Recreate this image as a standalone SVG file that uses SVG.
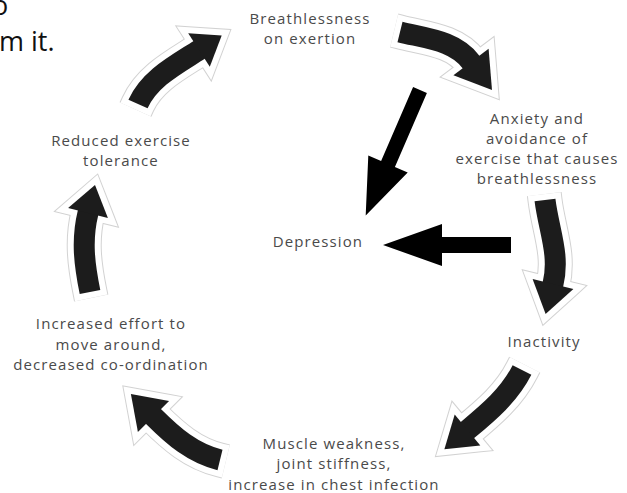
<svg xmlns="http://www.w3.org/2000/svg" xmlns:xlink="http://www.w3.org/1999/xlink" width="627" height="493" viewBox="0 0 627 493">
<style>
.t{font-family:"Open Sans","Noto Sans",sans-serif;font-size:15px;fill:#4a4a4a;text-anchor:middle;letter-spacing:1.1px}
.slide{font-family:"Open Sans","Noto Sans",sans-serif;font-size:27px;fill:#111}
.hs{fill:none;stroke:#d2d2d2;stroke-width:35}
.ws{fill:none;stroke:#fff;stroke-width:33}
.bs{fill:none;stroke:#1c1c1c;stroke-width:21}
.hh{fill:#d2d2d2;stroke:#d2d2d2;stroke-width:14;stroke-linejoin:miter}
.wh{fill:#fff;stroke:#fff;stroke-width:12;stroke-linejoin:miter}
.bh{fill:#1c1c1c}
.straight{fill:#000}
</style>
<defs>
<path id="e1" d="M135.5,109.5 L138,104 C149.5,78.5 175.5,65.1 199,50"/>
<path id="s1" d="M138,104 C149.5,78.5 175.5,65.1 199,50 L200.7,48.9"/>
<polygon id="h1" points="188.2,33.2 221.7,35.4 209.8,66.8"/>
<path id="e2" d="M394.2,30.6 L400,32 C426.2,38.5 454.8,40.4 471,62"/>
<path id="s2" d="M400,32 C426.2,38.5 454.8,40.4 471,62 L472.2,63.6"/>
<polygon id="h2" points="488.6,48.8 492,90 453.4,75.2"/>
<path id="e3" d="M544.3,194.1 L545,200 C548.6,229.7 560.2,254.9 553,284"/>
<path id="s3" d="M545,200 C548.6,229.7 560.2,254.9 553,284 L552.5,286"/>
<polygon id="h3" points="573.4,289 545.6,314.1 532.6,279"/>
<path id="e4" d="M524.7,364.7 L522,370 C509.4,394.9 489.1,412.1 467.5,430"/>
<path id="s4" d="M522,370 C509.4,394.9 489.1,412.1 467.5,430 L466,431.3"/>
<polygon id="h4" points="480.3,445.4 444.4,449.2 454.7,414.6"/>
<path id="e5" d="M225.8,461.4 L220,460 C192.8,453.3 173.4,436.4 153.5,416.5"/>
<path id="s5" d="M220,460 C192.8,453.3 173.4,436.4 153.5,416.5 L152.1,415.1"/>
<polygon id="h5" points="169.1,400.9 130.9,393.9 137.9,432.1"/>
<path id="e6" d="M91.2,297.9 L90,292 C84.4,264.6 81.3,240.2 88,213"/>
<path id="s6" d="M90,292 C84.4,264.6 81.3,240.2 88,213 L88.5,211"/>
<polygon id="h6" points="107.9,217.9 95,184.9 68.1,208.1"/>
</defs>

<text class="slide" x="-8" y="15">o</text>
<text class="slide" x="-1" y="51">m it.</text>

<g id="connectors">
  <g id="arrow-breathless-anxiety">
    <use xlink:href="#e2" class="hs"/><use xlink:href="#h2" class="hh"/>
    <use xlink:href="#e2" class="ws"/><use xlink:href="#h2" class="wh"/>
    <use xlink:href="#s2" class="bs"/><use xlink:href="#h2" class="bh"/>
  </g>
  <g id="arrow-anxiety-inactivity">
    <use xlink:href="#e3" class="hs"/><use xlink:href="#h3" class="hh"/>
    <use xlink:href="#e3" class="ws"/><use xlink:href="#h3" class="wh"/>
    <use xlink:href="#s3" class="bs"/><use xlink:href="#h3" class="bh"/>
  </g>
  <g id="arrow-inactivity-muscle">
    <use xlink:href="#e4" class="hs"/><use xlink:href="#h4" class="hh"/>
    <use xlink:href="#e4" class="ws"/><use xlink:href="#h4" class="wh"/>
    <use xlink:href="#s4" class="bs"/><use xlink:href="#h4" class="bh"/>
  </g>
  <g id="arrow-muscle-effort">
    <use xlink:href="#e5" class="hs"/><use xlink:href="#h5" class="hh"/>
    <use xlink:href="#e5" class="ws"/><use xlink:href="#h5" class="wh"/>
    <use xlink:href="#s5" class="bs"/><use xlink:href="#h5" class="bh"/>
  </g>
  <g id="arrow-effort-reduced">
    <use xlink:href="#e6" class="hs"/><use xlink:href="#h6" class="hh"/>
    <use xlink:href="#e6" class="ws"/><use xlink:href="#h6" class="wh"/>
    <use xlink:href="#s6" class="bs"/><use xlink:href="#h6" class="bh"/>
  </g>
  <g id="arrow-reduced-breathless">
    <use xlink:href="#e1" class="hs"/><use xlink:href="#h1" class="hh"/>
    <use xlink:href="#e1" class="ws"/><use xlink:href="#h1" class="wh"/>
    <use xlink:href="#s1" class="bs"/><use xlink:href="#h1" class="bh"/>
  </g>
  <polygon id="arrow-breathless-depression" class="straight" points="413.1,87 426.9,93 394.9,167 407.7,172.6 365.7,215.4 368.3,155.4 381.1,161"/>
  <polygon id="arrow-anxiety-depression" class="straight" points="511,237 511,253 442,253 442,266 383,245 442,224 442,237"/>
</g>

<g id="node-breathlessness">
  <text class="t" x="310" y="24">Breathlessness</text>
  <text class="t" x="310" y="44">on exertion</text>
</g>
<g id="node-anxiety">
  <text class="t" x="537" y="124">Anxiety and</text>
  <text class="t" x="537" y="144">avoidance of</text>
  <text class="t" x="537" y="164">exercise that causes</text>
  <text class="t" x="537" y="184">breathlessness</text>
</g>
<g id="node-depression">
  <text class="t" x="318" y="247">Depression</text>
</g>
<g id="node-inactivity">
  <text class="t" x="544" y="347">Inactivity</text>
</g>
<g id="node-muscle">
  <text class="t" x="334" y="449">Muscle weakness,</text>
  <text class="t" x="334" y="469">joint stiffness,</text>
  <text class="t" x="334" y="490">increase in chest infection</text>
</g>
<g id="node-effort">
  <text class="t" x="111" y="329">Increased effort to</text>
  <text class="t" x="111" y="350">move around,</text>
  <text class="t" x="111" y="370">decreased co-ordination</text>
</g>
<g id="node-reduced">
  <text class="t" x="121" y="146">Reduced exercise</text>
  <text class="t" x="121" y="166">tolerance</text>
</g>
</svg>
